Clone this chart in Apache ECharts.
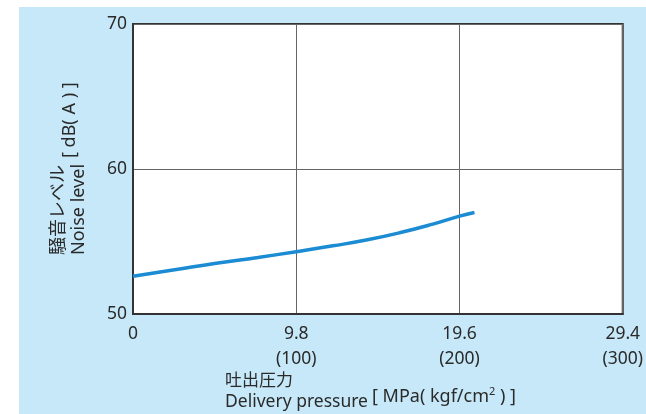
<!DOCTYPE html>
<html><head><meta charset="utf-8">
<script src="https://cdn.jsdelivr.net/npm/echarts@6/dist/echarts.min.js"></script>
<style>html,body{margin:0;padding:0;background:#fff}#c{width:646px;height:414px}</style>
</head><body><div id="c"></div>
<script>
const pressureMPa = [0, 2.5, 5, 7.5, 9.8, 12, 14, 16, 18, 19.6, 20.5];
const noiseDbA = [52.6, 53.05, 53.5, 53.9, 54.3, 54.7, 55.1, 55.6, 56.2, 56.75, 57.0];
const xTickValues = [0, 9.8, 19.6, 29.4];
const xTickLabels = ['0', '9.8\n(100)', '19.6\n(200)', '29.4\n(300)'];
const yTickValues = [50, 60, 70];

const FONT = '"Noto Sans", "Noto Sans CJK JP", sans-serif';
const TXT = '#2a2a2a';
const chart = echarts.init(document.getElementById('c'), null, {renderer: 'canvas'});
chart.setOption({
  animation: false,
  backgroundColor: '#fff',
  graphic: [
    {type: 'rect', z: -10, shape: {x: 19, y: 7, width: 627, height: 407}, style: {fill: '#c6e8f8'}},
    {type: 'text', x: 225, y: 381, style: {text: '吐出圧力', font: '17px ' + FONT, fill: TXT, verticalAlign: 'middle'}},
    {type: 'text', x: 225, y: 402, style: {text: 'Delivery pressure', font: '17.5px ' + FONT, fill: TXT, verticalAlign: 'middle'}},
    {type: 'text', x: 372, y: 386, style: {
      text: '{b|[ MPa( kgf/cm}{s|2}{b| ) ]}',
      rich: {b: {fontSize: 18, fontFamily: FONT, fill: TXT, verticalAlign: 'bottom', lineHeight: 20},
             s: {fontSize: 11, fontFamily: FONT, fill: TXT, verticalAlign: 'top', lineHeight: 20, padding: [0,0,8,0]}}
    }},
    {type: 'text', x: 59, y: 255, rotation: Math.PI / 2, style: {text: '騒音レベル', font: '18px ' + FONT, fill: TXT, align: 'left', verticalAlign: 'middle'}},
    {type: 'text', x: 79, y: 255, rotation: Math.PI / 2, style: {text: 'Noise level', font: '18px ' + FONT, fill: TXT, align: 'left', verticalAlign: 'middle'}},
    {type: 'text', x: 70, y: 158, rotation: Math.PI / 2, style: {text: '[ dB( A ) ]', font: '18px ' + FONT, fill: TXT, align: 'left', verticalAlign: 'middle'}}
  ],
  grid: {left: 133, right: 23, top: 24, bottom: 100, show: true, backgroundColor: '#fff', borderColor: '#333', borderWidth: 2},
  xAxis: {
    type: 'value', min: 0, max: 29.4, interval: 9.8,
    axisLine: {show: true, lineStyle: {color: '#333', width: 2}},
    axisTick: {show: false},
    splitLine: {show: true, lineStyle: {color: '#666', width: 1}},
    axisLabel: {
      margin: 8, color: TXT, fontSize: 17.5, fontFamily: FONT, lineHeight: 25,
      formatter: v => { const i = xTickValues.findIndex(t => Math.abs(t - v) < 1e-6); return i >= 0 ? xTickLabels[i] : ''; }
    }
  },
  yAxis: {
    type: 'value', min: 50, max: 70, interval: 10,
    axisLine: {show: true, lineStyle: {color: '#333', width: 2}},
    axisTick: {show: false},
    splitLine: {show: true, lineStyle: {color: '#666', width: 1}},
    axisLabel: {margin: 6, color: TXT, fontSize: 17.5, fontFamily: FONT,
      formatter: v => yTickValues.includes(v) ? String(v) : ''}
  },
  series: [{
    type: 'line', smooth: true, symbol: 'none',
    data: pressureMPa.map((x, i) => [x, noiseDbA[i]]),
    lineStyle: {color: '#1b8bd3', width: 3.5}
  }]
});
</script></body></html>
